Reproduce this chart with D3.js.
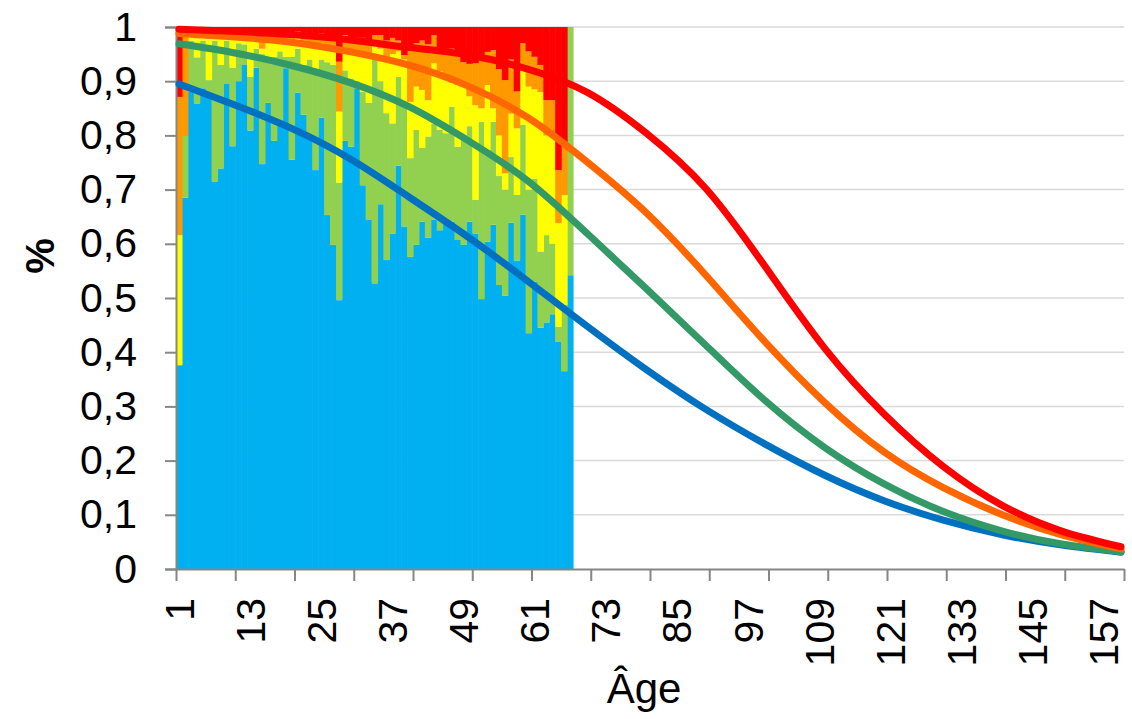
<!DOCTYPE html>
<html><head><meta charset="utf-8">
<script src="https://cdn.jsdelivr.net/npm/d3@7"></script>
<style>
body{margin:0;background:#fff}
svg{display:block}
text{font-family:"Liberation Sans",Arial,sans-serif;fill:#000}
</style>
</head><body>
<svg id="chart" width="1132" height="719"></svg>
<script>
// ---------- DATA ----------
const categories = d3.range(1, 161);          // ages 1..160
const barAges = d3.range(1, 68);              // ages with stacked bars (1..67)
const xLabelAges = [1, 13, 25, 37, 49, 61, 73, 85, 97, 109, 121, 133, 145, 157];
const yTickValues = [0, 0.1, 0.2, 0.3, 0.4, 0.5, 0.6, 0.7, 0.8, 0.9, 1];

// stacked bar shares per age (blue, green, yellow, orange, red)
const barBlue = [.376,.685,.881,.859,.887,.870,.715,.739,.896,.780,.900,.931,.809,.925,.747,.860,.790,.820,.924,.755,
  .879,.838,.800,.736,.833,.653,.598,.496,.790,.779,.887,.708,.644,.527,.673,.570,.619,.744,.632,.576,
  .598,.641,.611,.644,.625,.645,.641,.607,.598,.641,.619,.498,.604,.635,.524,.504,.639,.569,.654,.435,
  .530,.445,.455,.470,.419,.365,.542];
const barGreen = [0,.114,.094,.085,.088,.032,.260,.191,.079,.145,.070,.037,.099,.035,.203,.085,.155,.135,.021,.190,
  .081,.092,.140,.179,.107,.282,.332,.217,.130,.126,.013,.172,.216,.424,.227,.271,.203,.164,.228,.182,
  .212,.136,.187,.178,.185,.159,.212,.172,.202,.176,.062,.327,.169,.190,.201,.196,.121,.121,.166,.265,
  .190,.140,.161,.130,.028,.122,.458];
const barYellow = [.240,0,.010,.035,.010,.076,.010,.050,.010,.055,.012,.014,.072,.020,.010,.030,.030,.020,.030,.033,
  .020,.045,.030,.050,.030,.030,.035,.131,.040,.050,.055,.070,.090,.019,.060,.099,.128,.047,.080,.104,
  .080,.107,.067,.111,.108,.099,.044,.114,.090,.055,.175,.025,.120,.025,.075,.030,.080,.123,.100,.190,
  .165,.295,.184,.200,.191,.203,0];
const barOrange = [.255,.191,.008,.011,.008,.012,.008,.012,.008,.012,.010,.010,.012,.012,.030,.015,.015,.015,.015,.012,
  .012,.015,.018,.020,.018,.020,.020,.092,.025,.025,.025,.030,.025,.015,.025,.035,.030,.020,.008,.103,
  .080,.091,.103,.052,.042,.054,.063,.057,.045,.060,.077,.092,.061,.107,.122,.172,.100,.068,.050,.065,
  .060,.050,.065,.065,.098,.098,0];
const barRed = [.129,.010,.007,.010,.007,.010,.007,.008,.007,.008,.008,.008,.008,.008,.010,.010,.010,.010,.010,.010,
  .008,.010,.012,.015,.012,.015,.015,.064,.015,.020,.020,.020,.025,.015,.015,.025,.020,.025,.052,.035,
  .030,.025,.032,.015,.040,.043,.040,.050,.065,.068,.067,.058,.046,.043,.078,.098,.060,.119,.030,.045,
  .055,.070,.135,.135,.264,.212,0];

// smooth curves, read at these ages
const curveAges   = [1, 10, 20, 30, 40, 50, 60, 70, 80, 90, 100, 110, 120, 130, 140, 150, 160];
const curveBlue   = [.895,.858,.813,.756,.685,.611,.530,.447,.367,.294,.230,.173,.126,.090,.063,.044,.031];
const curveGreen  = [.969,.953,.929,.897,.852,.789,.715,.618,.516,.412,.310,.224,.157,.106,.070,.046,.032];
const curveOrange = [.988,.982,.972,.954,.929,.890,.832,.750,.656,.541,.418,.307,.216,.150,.100,.063,.037];
const curveRed    = [.996,.992,.986,.976,.962,.948,.922,.879,.803,.701,.557,.407,.286,.189,.117,.070,.041];

const barKeys = ["blue","green","yellow","orange","red"];
const barColors = {blue:"#00B0F0", green:"#92D050", yellow:"#FFFF00", orange:"#FF9900", red:"#FF0000"};
const lineSeries = [
  {name:"blue",   values:curveBlue,   color:"#0070C0"},
  {name:"green",  values:curveGreen,  color:"#339966"},
  {name:"orange", values:curveOrange, color:"#FF6600"},
  {name:"red",    values:curveRed,    color:"#FF0000"}
];

// ---------- LAYOUT ----------
const L = 176, R = 1124, T = 27, B = 569;
const svg = d3.select("#chart");
svg.append("rect").attr("width",1132).attr("height",719).attr("fill","#fff");

const x = d3.scaleBand().domain(categories).range([L, R]).padding(0);
const xLin = d3.scaleLinear().domain([0.5, 160.5]).range([L, R]);
const y = d3.scaleLinear().domain([0, 1]).range([B, T]);
const locale = d3.formatLocale({decimal:",", thousands:" ", grouping:[3], currency:["","€"]});
const fmt = v => v === 0 ? "0" : v === 1 ? "1" : locale.format(".1f")(v);

// gridlines
svg.append("g").selectAll("line").data(yTickValues.filter(v => v > 0)).join("line")
  .attr("x1", L).attr("x2", R).attr("y1", d => y(d)).attr("y2", d => y(d))
  .attr("stroke", "#D9D9D9").attr("stroke-width", 1.5);

// stacked bars
const rows = barAges.map((a, i) => ({age:a, blue:barBlue[i], green:barGreen[i], yellow:barYellow[i], orange:barOrange[i], red:barRed[i]}));
const stacked = d3.stack().keys(barKeys)(rows);
svg.append("g").selectAll("g").data(stacked).join("g")
  .attr("fill", d => barColors[d.key])
  .selectAll("rect").data(d => d).join("rect")
  .attr("x", d => x(d.data.age))
  .attr("width", x.bandwidth() + 0.6)
  .attr("y", d => y(d[1]))
  .attr("height", d => Math.max(0, y(d[0]) - y(d[1])));

// y axis
const yAxis = svg.append("g").attr("transform", `translate(${L},0)`)
  .call(d3.axisLeft(y).tickValues(yTickValues).tickFormat(fmt).tickSize(11).tickPadding(28));
yAxis.selectAll("path,line").attr("stroke", "#868686").attr("stroke-width", 2);
yAxis.selectAll("text").attr("font-size", 41).attr("font-family", '"Liberation Sans",Arial,sans-serif').attr("fill","#000");

// x axis: tick marks every 10 categories
const xTicks = svg.append("g").attr("transform", `translate(0,${B})`)
  .call(d3.axisBottom(xLin).tickValues(d3.range(0.5, 161, 10)).tickSize(12).tickSizeOuter(0).tickFormat(""));
xTicks.selectAll("path,line").attr("stroke", "#868686").attr("stroke-width", 2);

// x labels every 12 categories
const xLabels = svg.append("g").attr("transform", `translate(0,${B})`)
  .call(d3.axisBottom(x).tickValues(xLabelAges).tickSize(0));
xLabels.select(".domain").remove();
xLabels.selectAll("text")
  .attr("transform", "rotate(-90)")
  .attr("text-anchor", "end")
  .attr("x", -29).attr("y", 0).attr("dy", "0.36em")
  .attr("font-size", 41).attr("font-family", '"Liberation Sans",Arial,sans-serif').attr("fill","#000");

// curves
const line = d3.line().x((d, i) => x(curveAges[i]) + x.bandwidth() / 2).y(d => y(d)).curve(d3.curveNatural);
svg.append("g").selectAll("path").data(lineSeries).join("path")
  .attr("d", d => line(d.values))
  .attr("fill", "none").attr("stroke", d => d.color).attr("stroke-width", 7)
  .attr("stroke-linecap", "round");

// axis titles
svg.append("text").attr("transform", "translate(40,256) rotate(-90)")
  .attr("text-anchor", "middle").attr("dominant-baseline", "central")
  .attr("font-size", 40).attr("font-weight", "bold").text("%");
svg.append("text").attr("x", 644).attr("y", 703).attr("text-anchor", "middle")
  .attr("font-size", 42).text("Âge");
</script>
</body></html>
